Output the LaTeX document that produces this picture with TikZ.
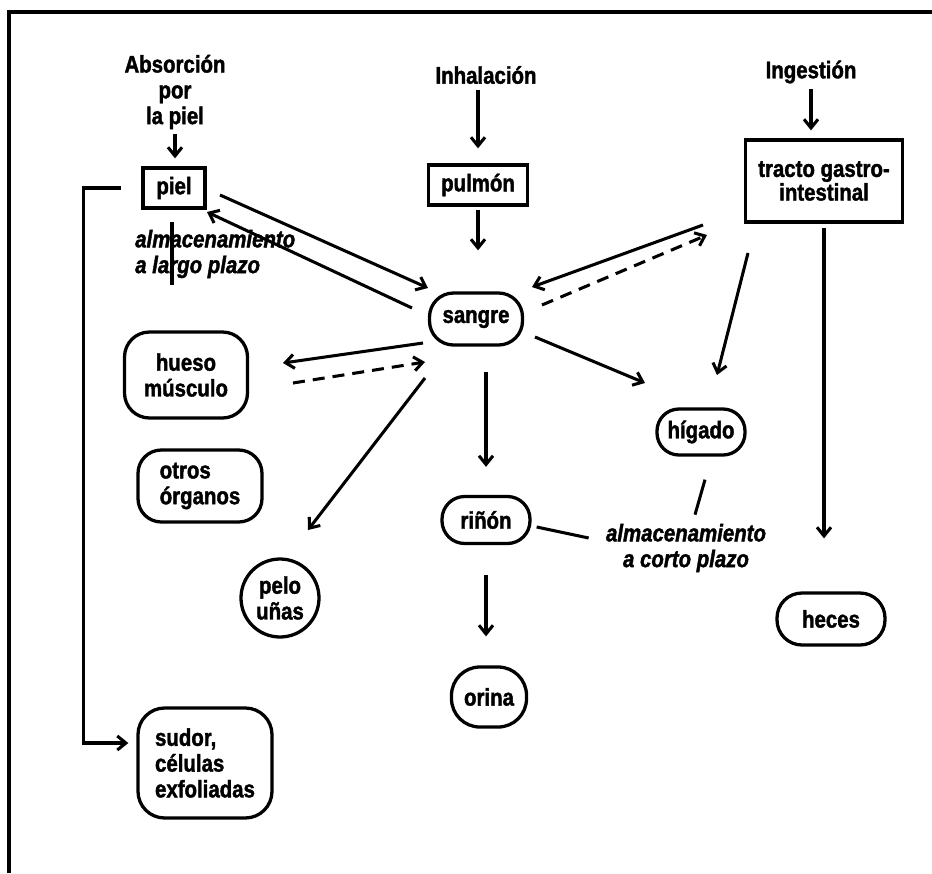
\documentclass[tikz,border=0pt]{standalone}
\usepackage{fontspec}
\setmainfont{Liberation Sans}
\newfontfamily\lab[FakeStretch=0.85, BoldFeatures={FakeBold=1.6}, BoldItalicFeatures={FakeBold=1.6}]{Liberation Sans}
\usetikzlibrary{arrows.meta}
\newcommand\lblfont{\lab\bfseries\fontsize{20.5}{22}\selectfont}
\tikzset{
 ln/.style={line width=2.6pt},
 arr/.style={line width=2.6pt, -{Straight Barb[length=2.6mm,width=4.2mm]}},
 dsh/.style={dash pattern=on 0.36cm off 0.24cm},
 sq/.style={draw, line width=2.8pt, rectangle, inner sep=0pt, align=center, font=\lblfont},
 rd/.style={draw, line width=2.8pt, rounded corners=#1, inner sep=0pt, align=center, font=\lblfont},
 txt/.style={inner sep=0pt, align=center, font=\lblfont},
 itx/.style={inner sep=0pt, font=\lblfont\itshape},
}
\begin{document}
\begin{tikzpicture}[x=0.03cm,y=-0.03cm]
\useasboundingbox (0,0) rectangle (932,873);
% frame
\draw[line width=3.2pt] (9,873) -- (9,12) -- (932,12);

% headings
\node[txt] (absor) at (175,92) {Absorción\\por\\la piel};
\node[txt] (inhal) at (486,75) {Inhalación};
\node[txt] (inges) at (811,72) {Ingestión};

% boxes
\node[sq, minimum width=1.86cm, minimum height=1.2cm] (piel) at (174,188) {piel};
\node[sq, minimum width=2.97cm, minimum height=1.2cm] (pulmon) at (478,185) {pulmón};
\node[sq, minimum width=4.71cm, minimum height=2.46cm, font=\lab\bfseries\fontsize{20.5}{18}\selectfont] (tracto) at (824,181) {tracto gastro-\\intestinal};

\node[rd=0.72cm, minimum width=2.79cm, minimum height=1.56cm] (sangre) at (476,319) {sangre};
\node[rd=0.75cm, minimum width=3.69cm, minimum height=2.58cm] (hueso) at (186,375) {hueso\\músculo};
\node[rd=0.7cm, minimum width=3.72cm, minimum height=2.16cm, align=left] (otros) at (200,486) {otros\\órganos};
\node[rd=0.66cm, minimum width=2.64cm, minimum height=1.38cm] (higado) at (701,432) {hígado};
\node[rd=0.68cm, minimum width=2.64cm, minimum height=1.41cm] (rinon) at (486,520) {riñón};
\node[draw, line width=2.8pt, circle, minimum size=2.34cm, inner sep=0pt, align=center, font=\lblfont] (pelo) at (280,598) {pelo\\uñas};
\node[rd=0.85cm, minimum width=2.25cm, minimum height=1.8cm] (orina) at (489,697) {orina};
\node[rd=0.75cm, minimum width=3.24cm, minimum height=1.56cm] (heces) at (831,619) {heces};
\node[rd=0.8cm, minimum width=4.02cm, minimum height=3.3cm, align=left] (sudor) at (205,763) {sudor,\\células\\exfoliadas};

% storage labels
\node[itx, anchor=west, align=left] (alm1) at (135,254) {almacenamiento\\a largo plazo};
\node[itx, align=center] (alm2) at (686,548) {almacenamiento\\a corto plazo};

% entry arrows
\draw[arr, shorten <=0.15cm, shorten >=0.24cm] (absor.south) -- (absor.south |- piel.north);
\draw[arr, shorten <=0.18cm, shorten >=0.45cm] (pulmon.north |- inhal.south) -- (pulmon.north);
\draw[arr, shorten <=0.15cm, shorten >=0.24cm] (inges.south) -- (inges.south |- tracto.north);

% vertical flows
\draw[arr, shorten <=0.09cm, shorten >=1.23cm] (pulmon.south) -- (pulmon.south |- sangre.north);
\draw[arr, shorten <=0.75cm, shorten >=0.84cm] (rinon.north |- sangre.south) -- (rinon.north);
\draw[arr, shorten <=0.9cm, shorten >=0.87cm] (rinon.south) -- (rinon.south |- orina.north);
\draw[arr, shorten <=0.12cm, shorten >=1.59cm] (tracto.south) -- (tracto.south |- heces.north);

% diagonal flows
\coordinate (ps1) at (220,195); \coordinate (ps2) at (428,288);
\coordinate (sp1) at (412,308); \coordinate (sp2) at (207,212);
\draw[arr] (ps1) -- (ps2);
\draw[arr] (sp1) -- (sp2);

\coordinate (ts1) at (703,225); \coordinate (ts2) at (532,287);
\coordinate (st1) at (542,305); \coordinate (st2) at (707,235);
\draw[arr] (ts1) -- (ts2);
\draw[arr, dsh] (st1) -- (st2);

\coordinate (th1) at (748,253); \coordinate (th2) at (717,375);
\draw[arr] (th1) -- (th2);
\coordinate (sh1) at (535,337); \coordinate (sh2) at (645,383);
\draw[arr] (sh1) -- (sh2);

\coordinate (sm1) at (423,343); \coordinate (sm2) at (283,363);
\coordinate (ms1) at (293,383); \coordinate (ms2) at (425,362);
\draw[arr] (sm1) -- (sm2);
\draw[arr, dsh] (ms1) -- (ms2);

\coordinate (sl1) at (425,378); \coordinate (sl2) at (308,530);
\draw[arr] (sl1) -- (sl2);

% skin to sweat
\draw[arr] (piel.west) ++(-20,0) -- ++(-38,0) |- ([xshift=-0.24cm]sudor.west |- 0,743);

% storage lines
\draw[ln] (piel.south) ++(-2,12) -- ++(0,63);
\draw[ln] (rinon.east) ++(5,7) -- ++(52,11);
\draw[ln] (higado.south) ++(4,23) -- ++(-10,35);
\end{tikzpicture}
\end{document}
